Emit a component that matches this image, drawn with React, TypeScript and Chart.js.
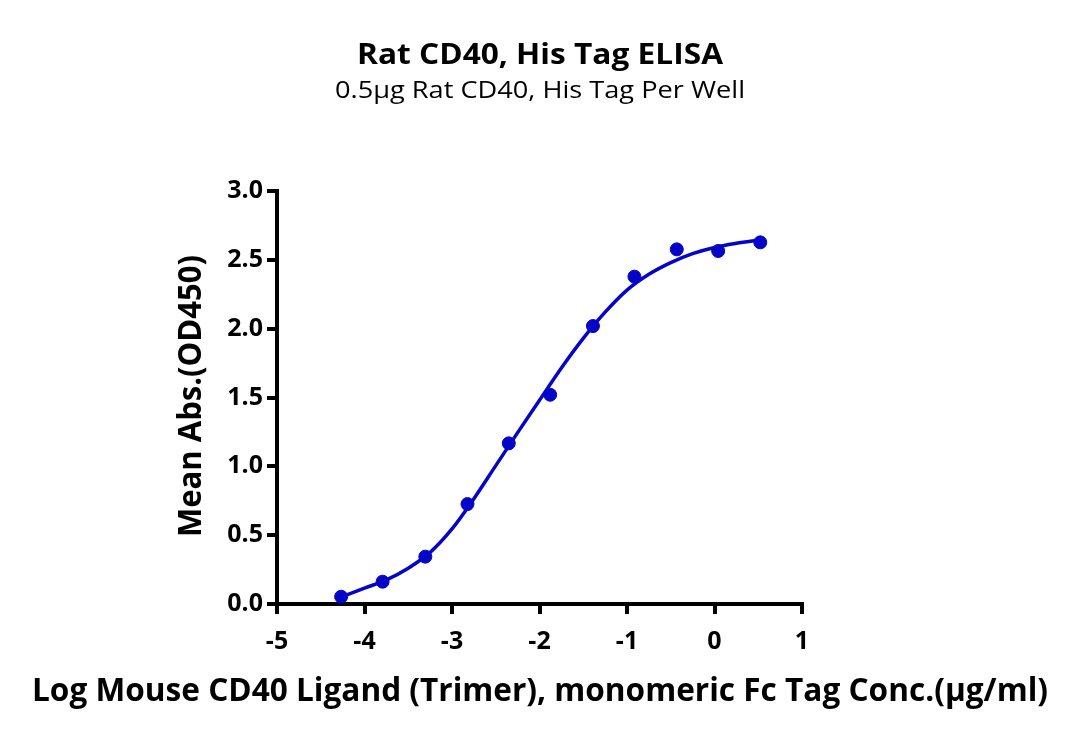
import React, { useEffect, useRef } from "react";
import { Chart, registerables } from "chart.js";

Chart.register(...registerables);

// Measured wells: log10 concentration (µg/ml) and mean OD450
const logConc = [-4.267, -3.793, -3.305, -2.823, -2.351, -1.878, -1.389, -0.915, -0.431, 0.042, 0.523];
const meanAbs = [0.053, 0.162, 0.344, 0.726, 1.167, 1.52, 2.019, 2.378, 2.576, 2.564, 2.627];

// Fitted dose-response curve, sampled along the x range
const fitX = [-4.27, -4.0, -3.75, -3.5, -3.25, -3.0, -2.75, -2.5, -2.25, -2.0, -1.75, -1.5, -1.25, -1.0, -0.75, -0.5, -0.25, 0.0, 0.25, 0.52];
const fitY = [0.05, 0.115, 0.175, 0.26, 0.375, 0.545, 0.765, 1.005, 1.245, 1.48, 1.715, 1.93, 2.12, 2.28, 2.395, 2.48, 2.545, 2.59, 2.62, 2.645];

const xTicks = [-5, -4, -3, -2, -1, 0, 1];
const yTicks = [0, 0.5, 1, 1.5, 2, 2.5, 3];

const titleText = "Rat CD40, His Tag ELISA";
const subtitleText = "0.5μg Rat CD40, His Tag Per Well";
const xTitle = "Log Mouse CD40 Ligand (Trimer), monomeric Fc Tag Conc.(μg/ml)";
const yTitle = "Mean Abs.(OD450)";

const BLUE = "#0505c8";
const FONT = "'Open Sans', 'Noto Sans', sans-serif";

// Draws one centred text line at the given size, narrowed horizontally to span `width`
function condensedText(
  ctx: CanvasRenderingContext2D,
  text: string,
  weight: string,
  size: number,
  width: number,
  x: number,
  y: number,
  rotate = false
) {
  ctx.save();
  ctx.font = `${weight} ${size}px ${FONT}`;
  const w = ctx.measureText(text).width;
  ctx.fillStyle = "#000";
  ctx.textAlign = "center";
  ctx.textBaseline = "alphabetic";
  ctx.translate(x, y);
  if (rotate) ctx.rotate(-Math.PI / 2);
  ctx.scale(width / w, 1);
  ctx.fillText(text, 0, 0);
  ctx.restore();
}

const textPlugin = {
  id: "chartTexts",
  afterDraw(chart: any) {
    const ctx = chart.ctx as CanvasRenderingContext2D;
    condensedText(ctx, titleText, "700", 28, 366, 540, 64);
    condensedText(ctx, subtitleText, "400", 24.5, 410, 540, 98);
    condensedText(ctx, xTitle, "700", 33, 1016, 540, 701);
    condensedText(ctx, yTitle, "700", 33, 282, 201, 396, true);
  },
};

export default function App() {
  const canvasRef = useRef<HTMLCanvasElement | null>(null);

  useEffect(() => {
    if (!canvasRef.current) return;
    const chart = new Chart(canvasRef.current, {
      type: "scatter",
      data: {
        datasets: [
          {
            type: "line",
            label: "fit",
            data: fitX.map((x, i) => ({ x, y: fitY[i] })),
            borderColor: BLUE,
            borderWidth: 3.5,
            pointRadius: 0,
            cubicInterpolationMode: "monotone",
            fill: false,
          },
          {
            label: "data",
            data: logConc.map((x, i) => ({ x, y: meanAbs[i] })),
            backgroundColor: BLUE,
            borderColor: BLUE,
            pointRadius: 6.5,
            pointHoverRadius: 6.5,
          },
        ],
      },
      plugins: [textPlugin],
      options: {
        animation: false,
        responsive: false,
        layout: { padding: { left: 0, right: 278, top: 191, bottom: 0 } },
        plugins: {
          legend: { display: false },
          tooltip: { enabled: false },
          title: { display: false },
        },
        scales: {
          x: {
            type: "linear",
            min: -5,
            max: 1,
            afterBuildTicks: (axis: any) => {
              axis.ticks = xTicks.map((v) => ({ value: v }));
            },
            afterFit: (axis: any) => {
              axis.height = 137;
            },
            grid: { drawOnChartArea: false, drawTicks: true, tickLength: 10, color: "#000", lineWidth: 4 },
            border: { color: "#000", width: 4 },
            ticks: {
              color: "#000",
              font: { family: FONT, size: 25, weight: "bold" },
              padding: 13,
              maxRotation: 0,
              callback: (v: any) => String(v),
            },
          },
          y: {
            type: "linear",
            min: 0,
            max: 3,
            afterBuildTicks: (axis: any) => {
              axis.ticks = yTicks.map((v) => ({ value: v }));
            },
            afterFit: (axis: any) => {
              axis.width = 277;
            },
            grid: { drawOnChartArea: false, drawTicks: true, tickLength: 10, color: "#000", lineWidth: 4 },
            border: { color: "#000", width: 4 },
            ticks: {
              color: "#000",
              font: { family: FONT, size: 25, weight: "bold" },
              padding: 4,
              callback: (v: any) => Number(v).toFixed(1),
            },
          },
        },
      },
    });
    return () => chart.destroy();
  }, []);

  return (
    <div style={{ position: "fixed", left: 0, top: 0, width: 1080, height: 741, background: "#fff" }}>
      <canvas ref={canvasRef} width={1080} height={741} style={{ width: 1080, height: 741, display: "block" }} />
    </div>
  );
}
